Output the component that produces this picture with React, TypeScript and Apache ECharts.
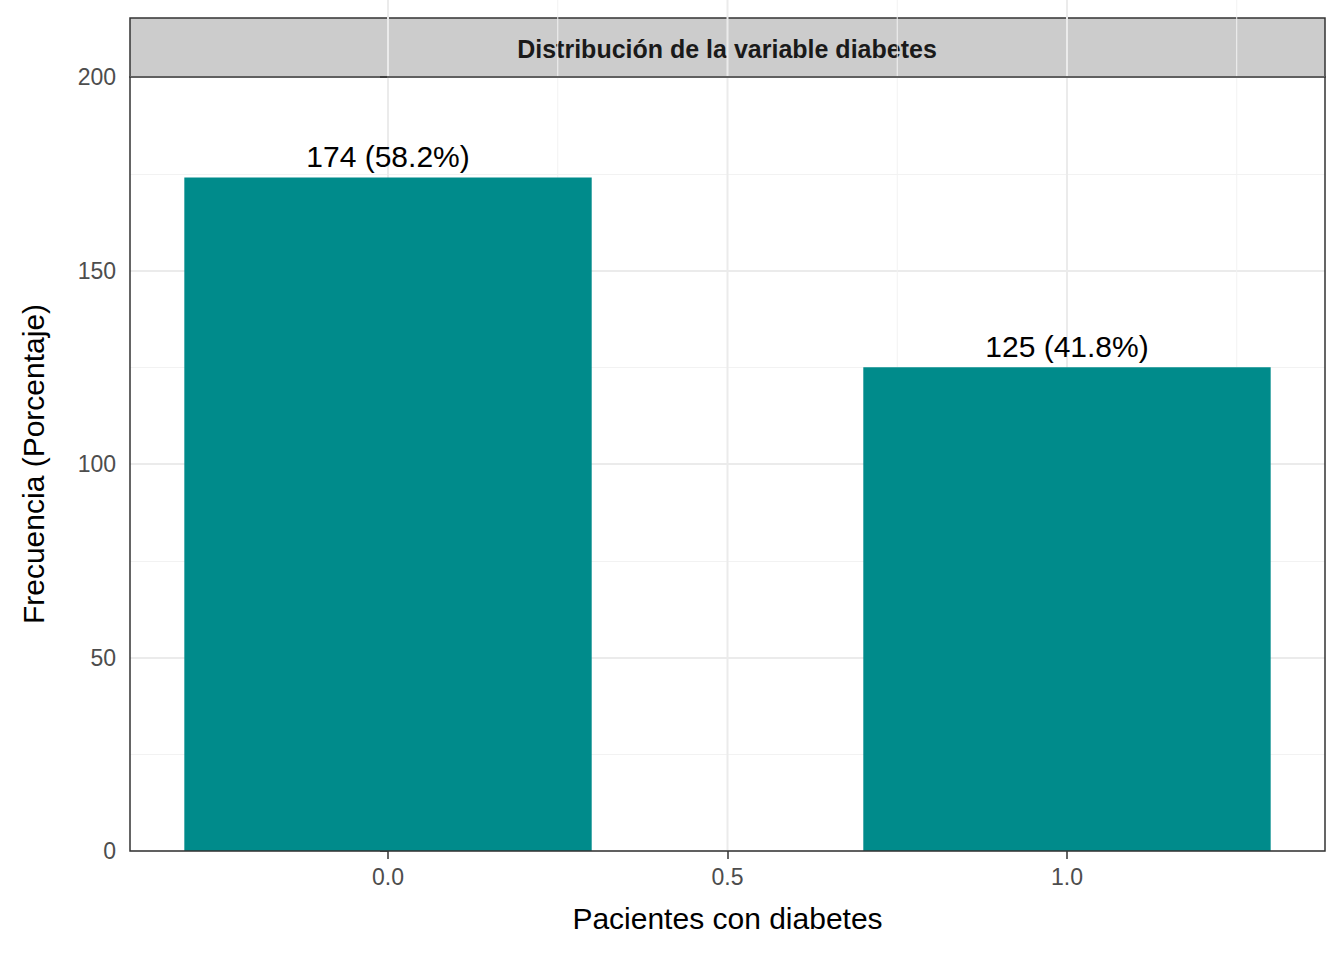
import * as echarts from 'echarts';
import { useEffect, useRef } from 'react';

const categories = [0, 1];
const counts = [174, 125];
const labels = ['174 (58.2%)', '125 (41.8%)'];
const xTicks = [0, 0.5, 1];
const xMinor = [0.25, 0.75, 1.25];
const yTicks = [0, 50, 100, 150, 200];

const App = () => {
  const chartRef = useRef<HTMLDivElement>(null);

  useEffect(() => {
    if (!chartRef.current) return;
    document.body.style.margin = '0';
    const chart = echarts.init(chartRef.current, null, { renderer: 'svg' });
    const font = 'Arial, "Liberation Sans", sans-serif';

    const option = {
      animation: false,
      grid: { left: 130, right: 19, top: 77, bottom: 109, show: true, borderColor: '#333', borderWidth: 1.5, z: 10 },
      graphic: [
        { type: 'rect', shape: { x: 130, y: 18, width: 1195, height: 59 }, style: { fill: '#CCCCCC', stroke: '#333', lineWidth: 1.5 } },
        {
          type: 'text', x: 727, y: 49,
          style: { text: 'Distribución de la variable diabetes', fontSize: 25, fontWeight: 'bold', fill: '#1A1A1A', font: `bold 25px ${font}`, align: 'center', verticalAlign: 'middle' },
        },
      ],
      xAxis: {
        type: 'value', min: -0.38, max: 1.38,
        name: 'Pacientes con diabetes', nameLocation: 'middle', nameGap: 52,
        nameTextStyle: { fontSize: 30, color: '#000', fontFamily: font },
        axisLine: { show: false },
        axisTick: { show: true, customValues: xTicks, length: 8, lineStyle: { color: '#333', width: 1.5 } },
        axisLabel: { customValues: xTicks, formatter: (v: number) => v.toFixed(1), fontSize: 23, color: '#4D4D4D', fontFamily: font, margin: 14 },
        splitLine: { show: false },
      },
      yAxis: {
        type: 'value', min: 0, max: 200, interval: 50,
        name: 'Frecuencia (Porcentaje)', nameLocation: 'middle', nameGap: 82,
        nameTextStyle: { fontSize: 30, color: '#000', fontFamily: font },
        axisLine: { show: false },
        axisTick: { show: true, length: 8, lineStyle: { color: '#333', width: 1.5 } },
        axisLabel: { fontSize: 23, color: '#4D4D4D', fontFamily: font, margin: 14, formatter: (v: number) => (yTicks.includes(v) ? String(v) : '') },
        splitLine: { lineStyle: { color: '#EBEBEB', width: 2 } },
        minorTick: { show: false, splitNumber: 2 },
        minorSplitLine: { show: true, lineStyle: { color: '#F2F2F2', width: 1 } },
      },
      series: [
        {
          type: 'custom',
          data: [...xTicks.map((v) => [v, 1]), ...xMinor.map((v) => [v, 0])],
          silent: true, z: 1,
          renderItem: (_p: unknown, api: any) => {
            const x = api.value(0);
            const major = api.value(1) === 1;
            const top = api.coord([x, 200]);
            const bot = api.coord([x, 0]);
            return {
              type: 'line',
              shape: { x1: top[0], y1: 0, x2: bot[0], y2: bot[1] },
              style: { stroke: major ? '#EBEBEB' : '#F2F2F2', lineWidth: major ? 2 : 1 },
            };
          },
        },
        {
          type: 'custom',
          data: categories.map((c, i) => [c, counts[i], i]),
          z: 5,
          renderItem: (_p: unknown, api: any) => {
            const x = api.value(0);
            const y = api.value(1);
            const p1 = api.coord([x - 0.3, y]);
            const p2 = api.coord([x + 0.3, 0]);
            return {
              type: 'group',
              children: [
                { type: 'rect', shape: { x: p1[0], y: p1[1], width: p2[0] - p1[0], height: p2[1] - p1[1] }, style: { fill: '#008B8B' } },
                {
                  type: 'text', x: (p1[0] + p2[0]) / 2, y: p1[1] - 6,
                  style: { text: labels[api.value(2)], font: `30px ${font}`, fill: '#000', align: 'center', verticalAlign: 'bottom' },
                },
              ],
            };
          },
        },
      ],
    };

    chart.setOption(option);
    return () => chart.dispose();
  }, []);

  return <div ref={chartRef} style={{ width: 1344, height: 960 }} />;
};

export default App;
